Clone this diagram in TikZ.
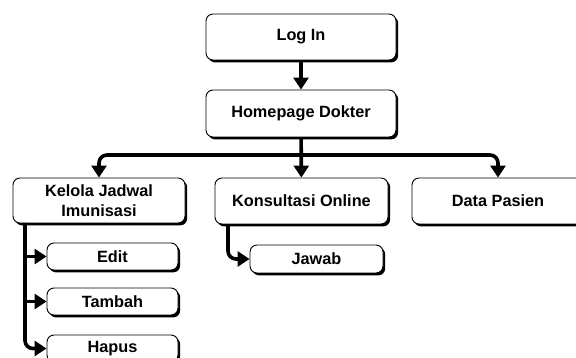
\documentclass[tikz,border=0pt]{standalone}
\usepackage{fontspec}
\setmainfont{Liberation Sans}
\usetikzlibrary{arrows.meta,shadows}
\begin{document}
\begin{tikzpicture}[x=1pt,y=-1pt,
  menubox/.style={draw=black, line width=0.9pt, fill=white, rounded corners=7pt,
    align=center, font=\fontsize{16.3}{19.5}\selectfont\bfseries, inner sep=2pt,
    drop shadow={shadow xshift=2.2pt, shadow yshift=-2.4pt, fill=black, opacity=1}},
  link/.style={line width=3.6pt, -{Triangle[length=12pt,width=15pt]}, rounded corners=8pt}]
\useasboundingbox (0,0) rectangle (576,358);

% main chain
\node[menubox, minimum width=190pt, minimum height=46pt] (login) at (301,37) {Log In};
\node[menubox, minimum width=190pt, minimum height=47pt] (home) at (301,113.5) {Homepage Dokter};

% second level
\node[menubox, minimum width=172pt, minimum height=45pt] (kelola) at (99,200.5) {Kelola Jadwal\\Imunisasi};
\node[menubox, minimum width=173pt, minimum height=46pt] (kons) at (301.5,201) {Konsultasi Online};
\node[menubox, minimum width=172pt, minimum height=46pt] (data) at (498,201) {Data Pasien};

% third level
\node[menubox, minimum width=133pt, minimum height=28pt] (jawab) at (316.5,259) {Jawab};
\node[menubox, minimum width=131pt, minimum height=27pt] (edit) at (112.5,256.5) {Edit};
\node[menubox, minimum width=131pt, minimum height=27pt] (tambah) at (112.5,301.5) {Tambah};
\node[menubox, minimum width=131pt, minimum height=27pt] (hapus) at (112.5,348.5) {Hapus};

% connectors
\draw[link] (login) -- (home);
\draw[link] (home) -- (kons);
\coordinate (hub) at (301,155);
\draw[link] (hub) -| (kelola.north);
\draw[link] (hub) -| (data.north);

\coordinate (ktop) at (25,223);
\coordinate (kedit) at (25,256.5);
\coordinate (ktambah) at (25,301.5);
\draw[link] (ktop) |- (hapus.west);
\draw[link] (kedit) -- (edit.west);
\draw[link] (ktambah) -- (tambah.west);

\coordinate (jtop) at (228,225);
\draw[link] (jtop) |- (jawab.west);
\end{tikzpicture}
\end{document}
